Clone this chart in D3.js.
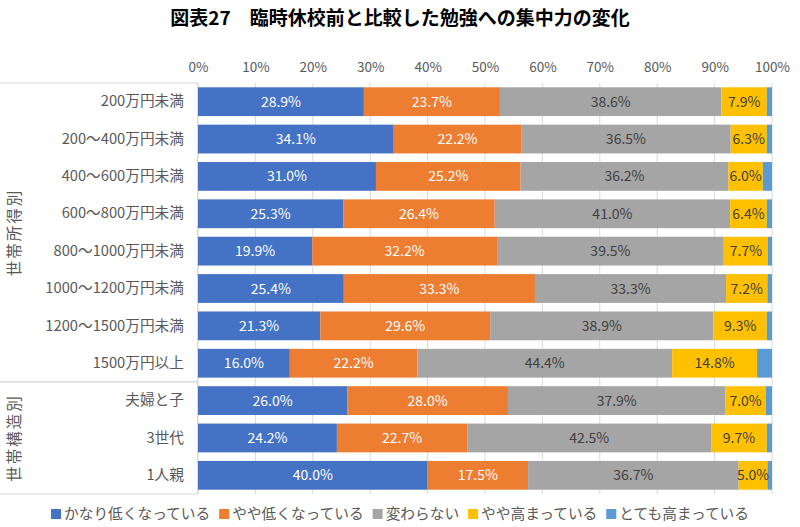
<!DOCTYPE html>
<html>
<head>
<meta charset="utf-8">
<script src="https://cdn.jsdelivr.net/npm/d3@7"></script>
<style>
  body { margin: 0; background: #fff; }
  text { font-family: "Noto Sans CJK JP", "Noto Sans", sans-serif; }
</style>
</head>
<body>
<svg id="chart"></svg>
<script>
const categories = ["200万円未満", "200〜400万円未満", "400〜600万円未満", "600〜800万円未満",
    "800〜1000万円未満", "1000〜1200万円未満", "1200〜1500万円未満", "1500万円以上",
    "夫婦と子", "3世代", "1人親"];
const seriesNames = ["かなり低くなっている", "やや低くなっている", "変わらない", "やや高まっている", "とても高まっている"];
const muchLower = [28.9, 34.1, 31.0, 25.3, 19.9, 25.4, 21.3, 16.0, 26.0, 24.2, 40.0];
const slightlyLower = [23.7, 22.2, 25.2, 26.4, 32.2, 33.3, 29.6, 22.2, 28.0, 22.7, 17.5];
const noChange = [38.6, 36.5, 36.2, 41.0, 39.5, 33.3, 38.9, 44.4, 37.9, 42.5, 36.7];
const slightlyHigher = [7.9, 6.3, 6.0, 6.4, 7.7, 7.2, 9.3, 14.8, 7.0, 9.7, 5.0];
const muchHigher = [0.9, 0.9, 1.6, 0.9, 0.7, 0.8, 0.9, 2.6, 1.1, 0.9, 0.8];
const groups = [
    {name: "世帯所得別", first: "200万円未満", last: "1500万円以上"},
    {name: "世帯構造別", first: "夫婦と子", last: "1人親"}
];
const xTicks = [0, 10, 20, 30, 40, 50, 60, 70, 80, 90, 100];

const colors = ["#4472C4", "#ED7D31", "#A5A5A5", "#FFC000", "#5B9BD5"];
const labelColors = ["#fff", "#fff", "#404040", "#404040", null];

let width = 800, height = 527;
let margin = {top: 83, right: 28, bottom: 33, left: 198};
let innerW = width - margin.left - margin.right,
    innerH = height - margin.top - margin.bottom;

let svg = d3.select("#chart").attr("width", width).attr("height", height);

let table = categories.map((c, i) => {
    let row = {cat: c};
    [muchLower, slightlyLower, noChange, slightlyHigher, muchHigher].forEach((s, k) => row[seriesNames[k]] = s[i]);
    return row;
});
let stacked = d3.stack().keys(seriesNames)(table);

let x = d3.scaleLinear().domain([0, 100]).range([0, innerW]);
let y = d3.scaleBand().domain(categories).range([0, innerH]).paddingInner(0.23).paddingOuter(0.115);

let g = svg.append("g").attr("transform", "translate(" + margin.left + "," + margin.top + ")");

// gridlines
g.selectAll(".grid")
    .data(xTicks)
    .enter().append("line")
    .attr("x1", d => x(d)).attr("x2", d => x(d))
    .attr("y1", 0).attr("y2", innerH)
    .attr("stroke", "#d9d9d9").attr("stroke-width", 1);

// top axis labels
let xAxis = d3.axisTop(x).tickValues(xTicks).tickFormat(d => d + "%").tickSize(0).tickPadding(11);
let ax = g.append("g").call(xAxis);
ax.select(".domain").remove();
ax.selectAll("text").attr("fill", "#595959").style("font-size", "13.5px");

// bars
let layer = g.selectAll(".layer")
    .data(stacked)
    .enter().append("g")
    .attr("fill", (d, i) => colors[i]);
layer.selectAll("rect")
    .data(d => d)
    .enter().append("rect")
    .attr("x", d => x(d[0]))
    .attr("y", d => y(d.data.cat))
    .attr("width", d => x(d[1]) - x(d[0]))
    .attr("height", y.bandwidth());

// value labels
stacked.forEach((s, i) => {
    if (!labelColors[i]) return;
    g.append("g").selectAll("text")
        .data(s)
        .enter().append("text")
        .attr("x", d => x((d[0] + d[1]) / 2))
        .attr("y", d => y(d.data.cat) + y.bandwidth() / 2)
        .attr("dy", "0.36em")
        .attr("text-anchor", "middle")
        .attr("fill", labelColors[i])
        .style("font-size", "14px")
        .text(d => d.data[s.key].toFixed(1) + "%");
});

// category axis
let yAxis = d3.axisLeft(y).tickSize(0).tickPadding(14);
let ay = g.append("g").call(yAxis);
ay.select(".domain").remove();
ay.selectAll("text").attr("fill", "#595959").style("font-size", "14.7px");

// group boxes
let step = y.step();
let bounds = groups.map(gr => {
    let top = y(gr.first) - (step - y.bandwidth()) / 2;
    let bot = y(gr.last) + y.bandwidth() + (step - y.bandwidth()) / 2;
    return {name: gr.name, top: Math.max(0, top), bot: Math.min(innerH, bot)};
});
let lines = svg.append("g").attr("transform", "translate(0," + margin.top + ")")
    .attr("stroke", "#d9d9d9").attr("stroke-width", 1);
bounds.forEach(b => {
    lines.append("line").attr("x1", 0).attr("x2", margin.left).attr("y1", b.top).attr("y2", b.top);
    lines.append("line").attr("x1", 0).attr("x2", margin.left).attr("y1", b.bot).attr("y2", b.bot);
});
lines.append("line").attr("x1", margin.left - 0.5).attr("x2", margin.left - 0.5).attr("y1", 0).attr("y2", innerH);

bounds.forEach(b => {
    svg.append("text")
        .attr("transform", "translate(14," + (margin.top + (b.top + b.bot) / 2) + ") rotate(-90)")
        .attr("text-anchor", "middle")
        .attr("dy", "0.36em")
        .attr("fill", "#595959")
        .style("font-size", "15.5px")
        .style("letter-spacing", "2px")
        .text(b.name);
});

// title
svg.append("text")
    .attr("x", width / 2).attr("y", 25)
    .attr("text-anchor", "middle")
    .attr("fill", "#000")
    .style("font-size", "19px")
    .style("font-weight", "bold")
    .text("図表27　臨時休校前と比較した勉強への集中力の変化");

// legend
let legend = svg.append("g");
let lx = 0;
seriesNames.forEach((name, i) => {
    let item = legend.append("g").attr("transform", "translate(" + lx + ",0)");
    item.append("rect").attr("x", 0).attr("y", -5).attr("width", 10).attr("height", 10).attr("fill", colors[i]);
    let t = item.append("text").attr("x", 13).attr("y", 0).attr("dy", "0.36em")
        .attr("fill", "#595959").style("font-size", "14.7px").text(name);
    lx += 13 + t.node().getComputedTextLength() + 9;
});
lx -= 9;
legend.attr("transform", "translate(" + ((width - lx) / 2) + ",514)");
</script>
</body>
</html>
